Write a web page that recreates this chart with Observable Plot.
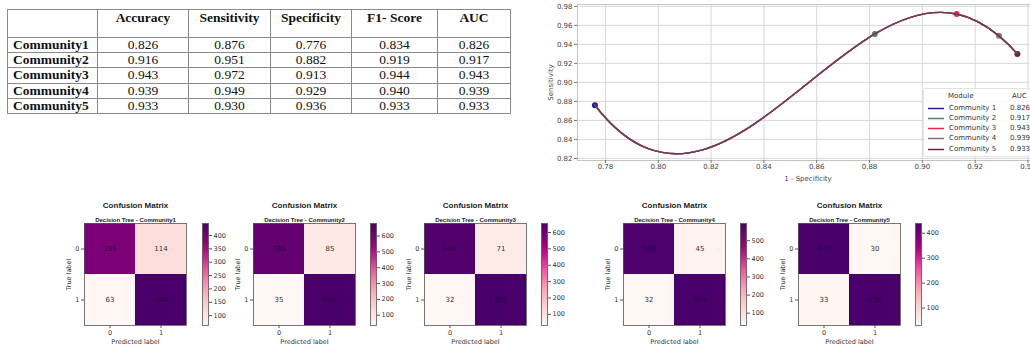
<!DOCTYPE html>
<html>
<head>
<meta charset="utf-8">
<script src="https://cdn.jsdelivr.net/npm/d3@7"></script>
<script src="https://cdn.jsdelivr.net/npm/@observablehq/plot@0.6"></script>
<style>
  html, body { margin: 0; padding: 0; background: #fff; overflow: hidden; }
  #root { position: relative; width: 1030px; height: 347px; overflow: hidden; background: #fff; }
  .abs { position: absolute; }
  table.metrics { border-collapse: collapse; font-family: "Liberation Serif", "Times New Roman", serif; font-size: 13.5px; color: #111; table-layout: fixed; }
  table.metrics td, table.metrics th { border: 1px solid #8a8a8a; padding: 0; text-align: center; line-height: 14px; }
  table.metrics th { font-weight: bold; height: 28px; vertical-align: top; padding-top: 1px; box-sizing: border-box; }
  table.metrics td { height: 14.2px; }
  table.metrics td.rowname { text-align: left; font-weight: bold; padding-left: 5px; }
  .legend { font-family: "DejaVu Sans", sans-serif; font-size: 7px; color: #333; background: rgba(255,255,255,0.85); border: 1px solid #e2e2e2; border-radius: 2px; }
  .legend .row { position: absolute; white-space: nowrap; line-height: 9px; }
</style>
</head>
<body>
<div id="root"></div>
<script>
// ---------------- data ----------------
const communities = ["Community1", "Community2", "Community3", "Community4", "Community5"];
const legendNames = ["Community 1", "Community 2", "Community 3", "Community 4", "Community 5"];
const tableHeaders = ["", "Accuracy", "Sensitivity", "Specificity", "F1- Score", "AUC"];
const accuracy    = [0.826, 0.916, 0.943, 0.939, 0.933];
const sensitivity = [0.876, 0.951, 0.972, 0.949, 0.930];
const specificity = [0.776, 0.882, 0.913, 0.929, 0.936];
const f1score     = [0.834, 0.919, 0.944, 0.940, 0.933];
const aucValues   = [0.826, 0.917, 0.943, 0.939, 0.933];
const seriesColors = ["#1c1c9c", "#4f8080", "#f0244c", "#7a7a7a", "#6e2340"];
const xTicks = [0.78, 0.80, 0.82, 0.84, 0.86, 0.88, 0.90, 0.92, 0.94];
const yTicks = [0.82, 0.84, 0.86, 0.88, 0.90, 0.92, 0.94, 0.96, 0.98];
// confusion matrices: [true 0 / pred 0, true 0 / pred 1, true 1 / pred 0, true 1 / pred 1]
const cmTN = [395, 635, 640, 589, 439];
const cmFP = [114, 85, 71, 45, 30];
const cmFN = [63, 35, 32, 32, 33];
const cmTP = [445, 679, 655, 595, 438];
const cbTicks = [
  [100, 150, 200, 250, 300, 350, 400],
  [100, 200, 300, 400, 500, 600],
  [100, 200, 300, 400, 500, 600],
  [100, 200, 300, 400, 500],
  [100, 200, 300, 400]
];

const root = document.getElementById("root");
function place(el, left, top) {
  el.classList.add("abs");
  el.style.left = left + "px";
  el.style.top = top + "px";
  root.appendChild(el);
  return el;
}

// ---------------- table ----------------
(function () {
  const table = document.createElement("table");
  table.className = "metrics";
  const widths = [90, 91, 82, 81, 86, 73];
  const cg = document.createElement("colgroup");
  widths.forEach(w => { const c = document.createElement("col"); c.style.width = w + "px"; cg.appendChild(c); });
  table.appendChild(cg);
  const hr = document.createElement("tr");
  tableHeaders.forEach(h => { const th = document.createElement("th"); th.textContent = h; hr.appendChild(th); });
  table.appendChild(hr);
  communities.forEach((c, i) => {
    const tr = document.createElement("tr");
    const cells = [c, accuracy[i], sensitivity[i], specificity[i], f1score[i], aucValues[i]];
    cells.forEach((v, j) => {
      const td = document.createElement("td");
      if (j === 0) { td.className = "rowname"; td.textContent = v; }
      else td.textContent = v.toFixed(3);
      tr.appendChild(td);
    });
    table.appendChild(tr);
  });
  place(table, 7, 9);
})();

// ---------------- not-a-knot cubic spline curve (d3 curve interface) ----------------
function curveNotAKnot(context) {
  let xs, ys;
  function solve(A, b) {
    const n = b.length;
    for (let c = 0; c < n; c++) {
      let p = c;
      for (let r = c + 1; r < n; r++) if (Math.abs(A[r][c]) > Math.abs(A[p][c])) p = r;
      [A[c], A[p]] = [A[p], A[c]]; [b[c], b[p]] = [b[p], b[c]];
      for (let r = c + 1; r < n; r++) {
        const f = A[r][c] / A[c][c];
        for (let k = c; k < n; k++) A[r][k] -= f * A[c][k];
        b[r] -= f * b[c];
      }
    }
    const x = new Array(n).fill(0);
    for (let r = n - 1; r >= 0; r--) {
      let s = b[r];
      for (let k = r + 1; k < n; k++) s -= A[r][k] * x[k];
      x[r] = s / A[r][r];
    }
    return x;
  }
  return {
    areaStart() {}, areaEnd() {},
    lineStart() { xs = []; ys = []; },
    point(x, y) { xs.push(+x); ys.push(+y); },
    lineEnd() {
      const n = xs.length;
      if (!n) return;
      context.moveTo(xs[0], ys[0]);
      if (n < 4) { for (let i = 1; i < n; i++) context.lineTo(xs[i], ys[i]); return; }
      const h = [], d = [];
      for (let i = 0; i < n - 1; i++) { h[i] = xs[i + 1] - xs[i]; d[i] = (ys[i + 1] - ys[i]) / h[i]; }
      const A = Array.from({length: n}, () => new Array(n).fill(0));
      const b = new Array(n).fill(0);
      A[0][0] = -h[1]; A[0][1] = h[0] + h[1]; A[0][2] = -h[0];
      for (let i = 1; i < n - 1; i++) {
        A[i][i - 1] = h[i - 1]; A[i][i] = 2 * (h[i - 1] + h[i]); A[i][i + 1] = h[i];
        b[i] = 6 * (d[i] - d[i - 1]);
      }
      A[n - 1][n - 3] = -h[n - 2]; A[n - 1][n - 2] = h[n - 2] + h[n - 3]; A[n - 1][n - 1] = -h[n - 3];
      const M = solve(A, b);
      const s = [];
      for (let i = 0; i < n - 1; i++) s[i] = d[i] - h[i] * (2 * M[i] + M[i + 1]) / 6;
      s[n - 1] = d[n - 2] + h[n - 2] * (M[n - 2] + 2 * M[n - 1]) / 6;
      for (let i = 0; i < n - 1; i++) {
        context.bezierCurveTo(
          xs[i] + h[i] / 3, ys[i] + h[i] / 3 * s[i],
          xs[i + 1] - h[i] / 3, ys[i + 1] - h[i] / 3 * s[i + 1],
          xs[i + 1], ys[i + 1]);
      }
    }
  };
}

// ---------------- line chart ----------------
(function () {
  const rows = communities.map((c, i) => ({i, x: specificity[i], y: sensitivity[i]}));
  const lines = seriesColors.map((col, k) => Plot.line(rows, {x: "x", y: "y", stroke: col, strokeWidth: 1.4, strokeOpacity: k === 4 ? 0.7 : 0.8, curve: curveNotAKnot}));
  const chart = Plot.plot({
    width: 522, height: 186,
    marginLeft: 57, marginRight: 4, marginTop: 4, marginBottom: 26,
    x: {domain: [0.7694, 0.944]},
    y: {domain: [0.8178, 0.982]},
    color: {type: "identity"},
    style: {fontFamily: "DejaVu Sans, sans-serif", fontSize: "7px", color: "#444", background: "transparent", overflow: "visible"},
    marks: [
      Plot.gridX(xTicks, {stroke: "#d8d8d8", strokeOpacity: 1}),
      Plot.gridY(yTicks, {stroke: "#d8d8d8", strokeOpacity: 1}),
      Plot.frame({stroke: "#c4c4c4"}),
      Plot.axisX(xTicks, {tickFormat: d3.format(".2f"), tickSize: 3, tickPadding: 1, label: "1 - Specificity", labelArrow: "none", labelAnchor: "center", labelOffset: 20, stroke: "#777"}),
      Plot.axisY(yTicks, {tickFormat: d3.format(".2f"), tickSize: 3, tickPadding: 2, label: "Sensitivity", labelArrow: "none", labelAnchor: "center", labelOffset: 29, stroke: "#777"}),
      Plot.dot(rows, {x: "x", y: "y", r: 3, fill: d => seriesColors[d.i]}),
      ...lines
    ]
  });
  place(chart, 520, 0);

  // legend
  const lg = document.createElement("div");
  lg.className = "legend";
  lg.style.width = "115px"; lg.style.height = "67px";
  place(lg, 923, 88);
  function addRow(html, left, top) {
    const r = document.createElement("div"); r.className = "row";
    r.innerHTML = html; r.style.left = left + "px"; r.style.top = top + "px"; lg.appendChild(r);
  }
  addRow("Module", 24, 3);
  addRow("AUC", 88, 3);
  legendNames.forEach((n, i) => {
    const top = 14.5 + i * 10.3;
    addRow(`<svg width="16" height="9" style="vertical-align:top"><line x1="0" x2="16" y1="4.5" y2="4.5" stroke="${seriesColors[i]}" stroke-width="1.5"/></svg>`, 4, top);
    addRow(n, 25, top);
    addRow(aucValues[i].toFixed(3), 86, top);
  });
})();

// ---------------- confusion matrices ----------------
const matLeft = [84, 253, 424, 623, 798];
const cbLeft = [202, 370, 541, 740, 915];
const matTop = 223, matSize = 102;
communities.forEach((name, i) => {
  const cells = [
    {t: 0, p: 0, v: cmTN[i]}, {t: 0, p: 1, v: cmFP[i]},
    {t: 1, p: 0, v: cmFN[i]}, {t: 1, p: 1, v: cmTP[i]}
  ];
  const lo = d3.min(cells, d => d.v), hi = d3.max(cells, d => d.v);
  const color = {type: "linear", scheme: "RdPu", domain: [lo, hi]};
  const mL = 32, mT = 30, mB = 24, mR = 24;
  const m = Plot.plot({
    width: matSize + mL + mR, height: matSize + mT + mB,
    marginLeft: mL, marginRight: mR, marginTop: mT, marginBottom: mB,
    x: {type: "band", domain: [0, 1], padding: 0},
    y: {type: "band", domain: [0, 1], padding: 0},
    color,
    style: {fontFamily: "DejaVu Sans, sans-serif", fontSize: "6.5px", color: "#333", background: "transparent", overflow: "visible"},
    marks: [
      Plot.cell(cells, {x: "p", y: "t", fill: "v"}),
      Plot.text(cells, {filter: d => d.t !== d.p, x: "p", y: "t", text: d => String(d.v), fill: "#333", fontSize: 7}),
      Plot.text(cells, {filter: d => d.t === d.p, x: "p", y: "t", text: d => String(d.v), fill: "#2a0042", fontSize: 7}),
      Plot.frame({stroke: "#555", strokeWidth: 0.8}),
      Plot.axisX({tickSize: 3, tickPadding: 2, label: "Predicted label", labelArrow: "none", labelAnchor: "center", labelOffset: 18, stroke: "#555"}),
      Plot.axisY({tickSize: 3, tickPadding: 2, label: "True label", labelArrow: "none", labelAnchor: "center", labelOffset: 18, stroke: "#555"}),
      Plot.text(["Confusion Matrix"], {frameAnchor: "top", dy: -21, fontWeight: "bold", fill: "#222", fontSize: 8, fontFamily: "Liberation Sans, Arial, sans-serif"}),
      Plot.text([`Decision Tree - ${name}`], {frameAnchor: "top", dy: -6, fontWeight: "bold", fill: "#222", fontSize: 6, fontFamily: "Liberation Sans, Arial, sans-serif"})
    ]
  });
  place(m, matLeft[i] - mL, matTop - mT);

  const cbMT = 4, cbMB = 4;
  const cb = Plot.plot({
    width: 34, height: matSize + cbMT + cbMB,
    marginLeft: 1, marginRight: 27, marginTop: cbMT, marginBottom: cbMB,
    x: {domain: [0, 1], axis: null},
    y: {domain: [lo, hi]},
    color,
    style: {fontFamily: "DejaVu Sans, sans-serif", fontSize: "6.5px", color: "#333", background: "transparent", overflow: "visible"},
    marks: [
      Plot.raster({x1: 0, x2: 1, y1: lo, y2: hi, width: 1, height: 256, fill: (x, y) => y}),
      Plot.frame({stroke: "#555", strokeWidth: 0.8}),
      Plot.axisY(cbTicks[i], {anchor: "right", tickSize: 3, tickPadding: 2, label: null, stroke: "#555"})
    ]
  });
  place(cb, cbLeft[i] - 1, matTop - cbMT);
});
</script>
</body>
</html>
